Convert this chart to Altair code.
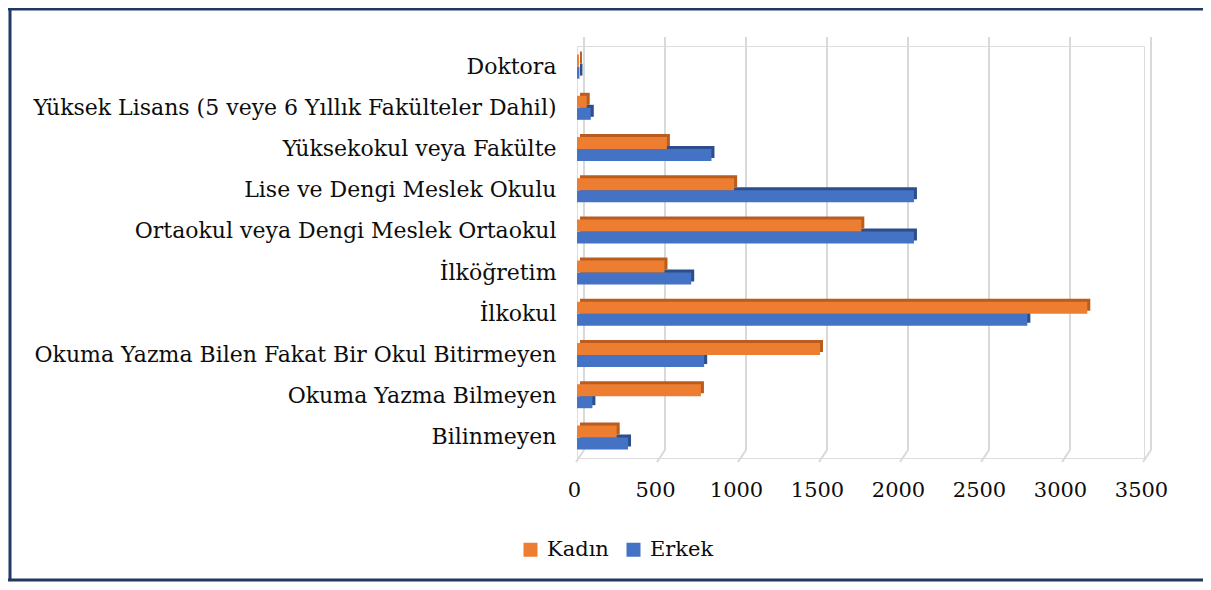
import altair as alt
import pandas as pd

categories = [
    "Doktora",
    "Yüksek Lisans (5 veye 6 Yıllık Fakülteler Dahil)",
    "Yüksekokul veya Fakülte",
    "Lise ve Dengi Meslek Okulu",
    "Ortaokul veya Dengi Meslek Ortaokul",
    "İlköğretim",
    "İlkokul",
    "Okuma Yazma Bilen Fakat Bir Okul Bitirmeyen",
    "Okuma Yazma Bilmeyen",
    "Bilinmeyen",
]
kadin = [12, 60, 555, 970, 1755, 540, 3150, 1500, 765, 245]
erkek = [15, 85, 830, 2080, 2080, 705, 2780, 785, 95, 315]
series = ["Kadın", "Erkek"]
ticks = [0, 500, 1000, 1500, 2000, 2500, 3000, 3500]

rows = []
for c, k, e in zip(categories, kadin, erkek):
    rows.append({"category": c, "series": "Kadın", "value": k})
    rows.append({"category": c, "series": "Erkek", "value": e})
df = pd.DataFrame(rows)
tick_df = pd.DataFrame({"tick": ticks})
dummy = pd.DataFrame({"a": [0]})

ORANGE, ORANGE_D = "#ED7D31", "#B95C1E"
BLUE, BLUE_D = "#4472C4", "#2C4F8C"
FONT = "DejaVu Serif"
TXT = "#0d0d0d"

x_axis = alt.Axis(values=ticks, title=None, domain=False, ticks=False, grid=False,
                  format="d", labelFontSize=21, labelFont=FONT, labelColor=TXT,
                  labelPadding=21, labelOffset=-3, labelFlush=False)
x_scale = alt.Scale(domain=[0, 3500], nice=False, zero=True)
y_enc = alt.Y("category:N", sort=categories,
              scale=alt.Scale(paddingInner=0.38, paddingOuter=0.19),
              axis=alt.Axis(title=None, domain=False, ticks=False, labelFontSize=22,
                            labelFont=FONT, labelColor=TXT, labelPadding=21,
                            labelLimit=700))
x_enc = alt.X("value:Q", scale=x_scale, axis=x_axis)

grid = alt.Chart(tick_df).mark_rule(color="#D9D9D9", strokeWidth=2, xOffset=7).encode(
    x=alt.X("tick:Q", scale=x_scale, axis=x_axis),
    y=alt.value(-9), y2=alt.value(404),
)
grid_diag = alt.Chart(tick_df).mark_rule(color="#D9D9D9", strokeWidth=2, xOffset=7,
                                         x2Offset=-1).encode(
    x=alt.X("tick:Q", scale=x_scale, axis=x_axis),
    x2=alt.X2("tick"),
    y=alt.value(404), y2=alt.value(416),
)

color_enc = alt.Color("series:N", scale=alt.Scale(domain=series, range=[ORANGE, BLUE]),
                      legend=alt.Legend(orient="none", legendX=-57, legendY=493,
                                        direction="horizontal", title=None,
                                        symbolType="square", symbolSize=196,
                                        symbolStrokeWidth=0, labelFontSize=21,
                                        labelFont=FONT, labelColor=TXT,
                                        labelOffset=6, columnPadding=14))

base = alt.Chart(df)
erk_sh = base.transform_filter(alt.datum.series == "Erkek").mark_bar(
    size=12, yOffset=3, xOffset=3, x2Offset=3, color=BLUE_D).encode(x=x_enc, y=y_enc)
erk = base.transform_filter(alt.datum.series == "Erkek").mark_bar(
    size=12, yOffset=6).encode(x=x_enc, y=y_enc, color=color_enc)
kad_sh = base.transform_filter(alt.datum.series == "Kadın").mark_bar(
    size=12, yOffset=-9, xOffset=3, x2Offset=3, color=ORANGE_D).encode(x=x_enc, y=y_enc)
kad = base.transform_filter(alt.datum.series == "Kadın").mark_bar(
    size=12, yOffset=-6).encode(x=x_enc, y=y_enc, color=color_enc)

border_col = "#1F3864"
b_top = alt.Chart(dummy).mark_rule(color=border_col, strokeWidth=3).encode(
    x=alt.value(-569), x2=alt.value(640), y=alt.value(-37))
b_left = alt.Chart(dummy).mark_rule(color=border_col, strokeWidth=3).encode(
    x=alt.value(-567), y=alt.value(-38), y2=alt.value(535))
b_bot = alt.Chart(dummy).mark_rule(color=border_col, strokeWidth=3).encode(
    x=alt.value(-569), x2=alt.value(640), y=alt.value(534))

chart = alt.layer(grid, grid_diag, erk_sh, erk, kad_sh, kad, b_top, b_left, b_bot).properties(
    width=567, height=412,
    padding={"left": 569, "top": 38, "right": 59, "bottom": 124},
    autosize=alt.AutoSizeParams(type="none"),
).configure_view(stroke=None).configure(font=FONT, background="white")

chart.save("out.html", embed_options={"renderer": "svg", "actions": False})
